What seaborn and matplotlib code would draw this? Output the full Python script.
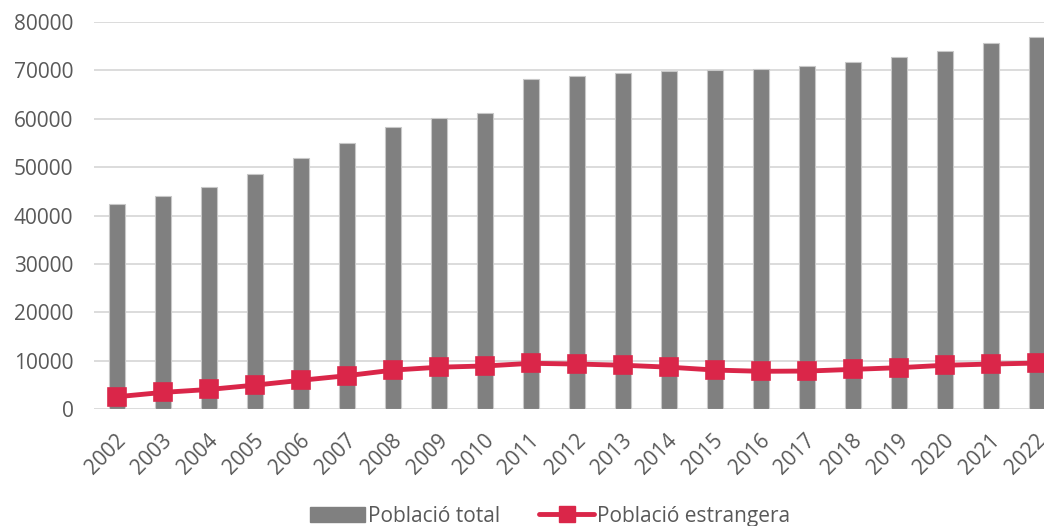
import numpy as np
import matplotlib
matplotlib.use("Agg")
import matplotlib.pyplot as plt
import matplotlib.transforms as mtransforms
import seaborn as sns
import pandas as pd
from matplotlib.patches import Patch
from matplotlib.lines import Line2D

years = [str(y) for y in range(2002, 2023)]
total = [42400, 44100, 46000, 48550, 51900, 55100, 58400, 60200, 61300, 68200,
         68850, 69400, 69850, 70050, 70300, 70850, 71750, 72750, 74100, 75750, 76950]
foreign = [2600, 3500, 4100, 5000, 6000, 6950, 8100, 8700, 8950, 9500,
           9350, 9100, 8700, 8100, 7850, 7900, 8250, 8600, 9100, 9350, 9550]

bar_color = "#808080"
line_color = "#DA2649"
text_color = "#595959"

sns.set_style("white")
plt.rcParams['font.family'] = ['Open Sans', 'DejaVu Sans']

df = pd.DataFrame({"year": years, "total": total, "foreign": foreign})

fig = plt.figure(figsize=(10.44, 5.26), dpi=100)
ax = fig.add_axes([94.3 / 1044, 1 - 409.3 / 526, 966 / 1044, (409.3 - 22) / 526])

sns.barplot(data=df, x="year", y="total", color=bar_color, saturation=1,
            width=0.35, edgecolor="#C8C8C8", linewidth=0.8, ax=ax, zorder=2)
sns.pointplot(data=df, x="year", y="foreign", color=line_color, marker="s",
              markersize=11, linewidth=3.5, ax=ax, zorder=3)

ax.set_ylim(0, 80000)
ax.set_xlim(-0.5, len(years) - 0.5)
ax.set_yticks(np.arange(0, 80001, 10000))
ax.yaxis.grid(True, color="#D9D9D9", linewidth=1.3, zorder=0)
ax.set_axisbelow(True)
for s in ax.spines.values():
    s.set_visible(False)
ax.set_xlabel("")
ax.set_ylabel("")
ax.tick_params(axis="y", length=0, pad=15, labelsize=15, labelcolor=text_color)
ax.tick_params(axis="x", length=0, pad=20, labelsize=15, labelcolor=text_color)
# Excel-style rotated labels: shift a little right of the tick
shift = mtransforms.ScaledTranslation(0.05, 0, fig.dpi_scale_trans)
for lbl in ax.get_xticklabels():
    lbl.set_rotation(45)
    lbl.set_ha("right")
    lbl.set_va("center")
    lbl.set_rotation_mode("anchor")
    lbl.set_transform(lbl.get_transform() + shift)

handles = [Patch(facecolor=bar_color, edgecolor=bar_color),
           Line2D([0], [0], color=line_color, linewidth=3.5, marker="s", markersize=11)]
fig.legend(handles, ["Població total", "Població estrangera"], loc="center",
           bbox_to_anchor=(0.527, 0.019), ncol=2, frameon=False, fontsize=15,
           labelcolor=text_color, handlelength=2.6, handletextpad=0.15,
           columnspacing=1.9, borderpad=0)

fig.savefig("out.png", dpi=100)
